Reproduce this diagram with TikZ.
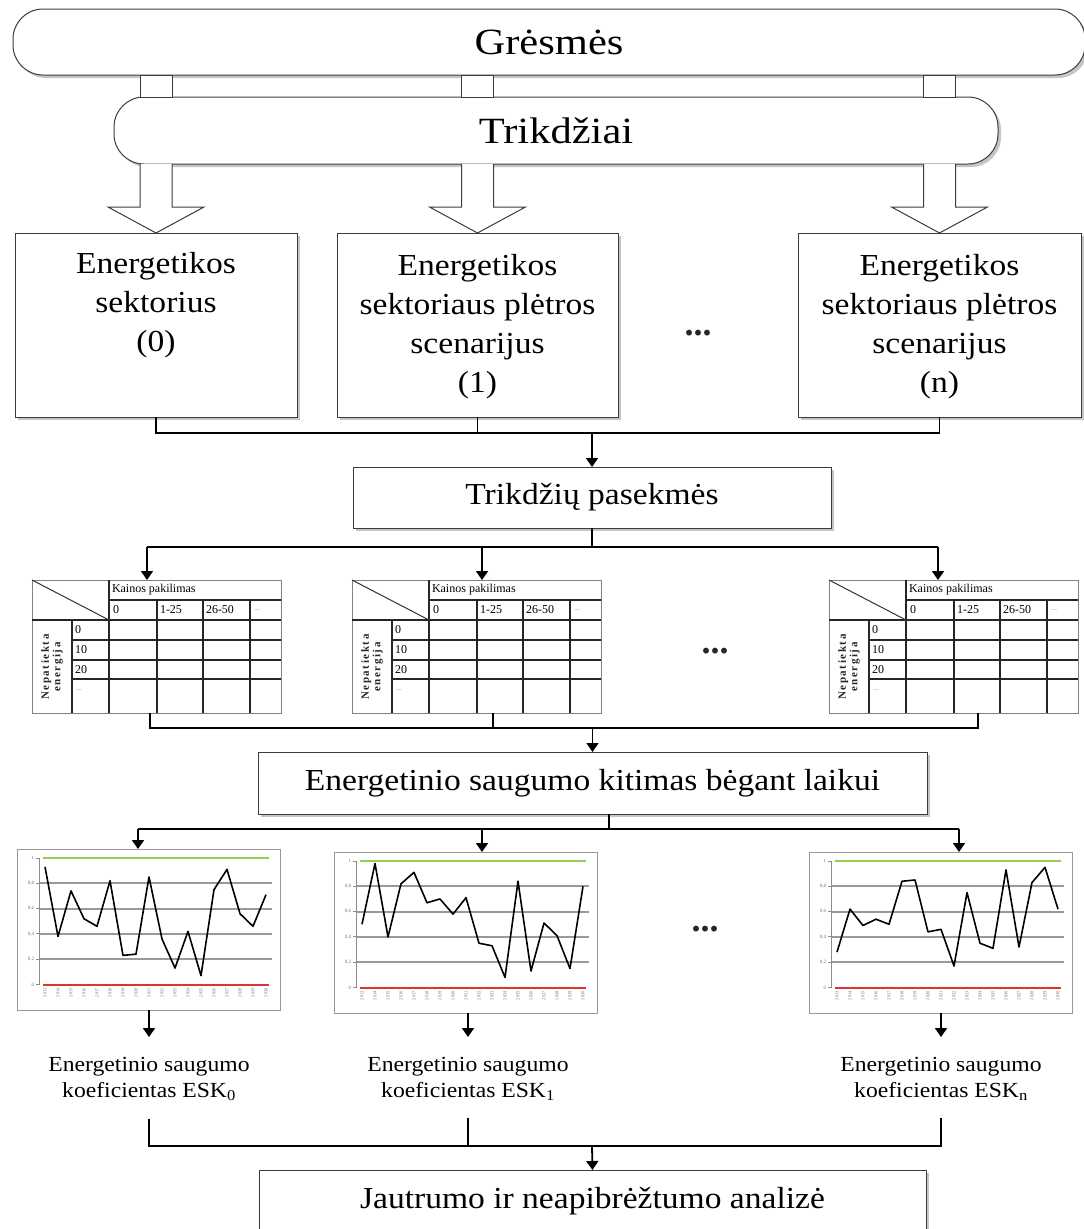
\documentclass[tikz,border=0pt]{standalone}
\usepackage{fontspec}
\setmainfont{Liberation Serif}
\newfontfamily\wideF{Liberation Serif}[FakeStretch=1.15]
\newfontfamily\midF{Liberation Serif}[FakeStretch=1.1]
\newfontfamily\spacedF{Liberation Serif}[LetterSpace=14]
\usetikzlibrary{arrows.meta,shadows,calc}
\definecolor{xlgreen}{RGB}{146,208,80}
\definecolor{xlred}{RGB}{225,50,50}
\definecolor{bordergray}{RGB}{60,60,60}
\newcommand{\bannerfont}{\wideF\fontsize{37}{42}\selectfont}
\newcommand{\boxfont}{\midF\fontsize{30.5}{39}\selectfont}
\newcommand{\labfont}{\midF\fontsize{21.5}{26}\selectfont}
\newcommand{\tblfont}{\fontsize{12}{12}\selectfont}
\tikzset{
  every node/.style={inner sep=0pt, outer sep=0pt},
  shbox/.style={draw=bordergray, line width=1pt, fill=white, drop shadow={shadow xshift=3pt, shadow yshift=-3pt, fill=black!45}},
  banner/.style={shbox, rounded corners=30pt, font=\bannerfont},
  mainbox/.style={shbox, font=\boxfont},
  boxtext/.style={font=\boxfont, align=center, anchor=north},
  lab/.style={font=\labfont, align=center, anchor=north},
  link/.style={draw=black, line width=1.8pt},
  arr/.style={link, -{Triangle[length=9pt,width=12pt]}},
  hollow/.style={draw=bordergray, line width=1pt, fill=white},
  dotsx/.style={font=\fontsize{36}{36}\selectfont\bfseries, text=black!85},
  tblframe/.style={draw=black!50, line width=1pt, minimum width=249pt, minimum height=133pt},
  tline/.style={draw=black!85, line width=1.8pt},
  ttext/.style={font=\tblfont},
  tgray/.style={font=\fontsize{8}{8}\selectfont, text=black!45},
  rottext/.style={font=\spacedF\bfseries\fontsize{11}{11.5}\selectfont, align=center, rotate=90, text=black!85},
  chartframe/.style={draw=black!40, line width=1pt, fill=white, minimum width=263pt, minimum height=161pt},
  gridl/.style={draw=black!40, line width=2.2pt},
  axisl/.style={draw=black!45, line width=1pt},
  greenl/.style={draw=xlgreen, line width=2pt},
  redl/.style={draw=xlred, line width=2pt},
  dataline/.style={draw=black, line width=1.6pt, line join=round},
  ylab/.style={font=\fontsize{5}{5}\selectfont, text=black!55},
  xlab/.style={font=\fontsize{4.5}{4.5}\selectfont, text=black!55},
}
\newcommand{\tbl}[2]{%
  \node[tblframe, anchor=north west] (#1) at (#2) {};
  \begin{scope}[shift={(#1.north west)}]
    \draw[tline] (77,20) -- (249,20);
    \draw[tline] (0,40) -- (249,40);
    \foreach \yy in {60,80,99}{\draw[tline] (40,\yy) -- (249,\yy);}
    \draw[tline] (40,40) -- (40,133);
    \draw[tline] (77,0) -- (77,133);
    \foreach \xx in {125,171,218}{\draw[tline] (\xx,20) -- (\xx,133);}
    \draw[draw=black!80, line width=1pt] (0,0) -- (77,40);
    \node[ttext, anchor=west] (#1-kp) at (80,10) {Kainos pakilimas};
    \node[ttext, anchor=west] (#1-c0) at (81,30) {0};
    \node[ttext, anchor=west] (#1-c1) at (128,30) {1-25};
    \node[ttext, anchor=west] (#1-c2) at (174,30) {26-50};
    \node[tgray, anchor=west] (#1-c3) at (222,30) {...};
    \node[ttext, anchor=west] (#1-r0) at (43,50) {0};
    \node[ttext, anchor=west] (#1-r1) at (43,70) {10};
    \node[ttext, anchor=west] (#1-r2) at (43,90) {20};
    \node[tgray, anchor=west] (#1-r3) at (44,110) {...};
    \node[rottext] (#1-ne) at (20,87) {Nepatiekta\\energija};
  \end{scope}
}
\newcommand{\xlchart}[3]{%
  \node[chartframe, anchor=north west] (#1) at (#2) {};
  \begin{scope}[shift={(#1.north west)}]
    \foreach \yy/\lab [count=\k] in {9/1, 34.3/{0,8}, 59.6/{0,6}, 84.9/{0,4}, 110.2/{0,2}, 135.5/0}{
      \node[ylab, anchor=east] (#1-y\k) at (17,\yy) {\lab};
      \draw[axisl] (19,\yy) -- (22,\yy);
    }
    \foreach \yy in {34.3,59.6,84.9,110.2}{\draw[gridl] (22,\yy) -- (255,\yy);}
    \draw[axisl] (22,9) -- (22,135.5);
    \draw[greenl] (26,9) -- (252,9);
    \draw[redl] (26,135.5) -- (252,135.5);
    \foreach \i in {0,...,17}{
      \pgfmathtruncatemacro\yr{2013+\i}
      \node[xlab, rotate=90, anchor=east] (#1-x\i) at (28+13*\i,139) {\yr};
    }
    \begin{scope}[shift={(28,135.5)}, xscale=13, yscale=-126.5]
      \draw[dataline] plot coordinates {#3};
    \end{scope}
  \end{scope}
}
\begin{document}
\begin{tikzpicture}[x=1pt,y=-1pt]
\useasboundingbox (0,0) rectangle (1084,1229);
\clip (0,0) rectangle (1084,1229);

% banners
\node[banner, anchor=north west, minimum width=1072pt, minimum height=66pt] (gres) at (13,9) {Grėsmės};
\node[banner, anchor=north west, minimum width=884pt, minimum height=67pt] (trik) at (114,97) {Trikdžiai};

% first row boxes
\node[mainbox, anchor=north west, minimum width=282pt, minimum height=184pt] (b0) at (15,233) {};
\node[mainbox, anchor=north west, minimum width=281pt, minimum height=184pt] (b1) at (337,233) {};
\node[mainbox, anchor=north west, minimum width=283pt, minimum height=184pt] (bn) at (798,233) {};
\node[boxtext] (b0t) at ($(b0.north)+(0,19)$) {Energetikos\\sektorius\\(0)};
\node[boxtext] (b1t) at ($(b1.north)+(0,21)$) {Energetikos\\sektoriaus plėtros\\scenarijus\\(1)};
\node[boxtext] (bnt) at ($(bn.north)+(0,21)$) {Energetikos\\sektoriaus plėtros\\scenarijus\\(n)};
\node[dotsx] (d1) at (698,333) {...};

% hollow connectors
\foreach \b in {b0,b1,bn}{
  \draw[hollow] ($(\b.north|-gres.south)+(-16,0)$) rectangle ($(\b.north|-trik.north)+(16,0)$);
  \draw[hollow] ($(\b.north|-trik.south)+(-16,0)$) -- ($(\b.north)+(-16,-26)$) -- ($(\b.north)+(-48,-26)$)
     -- (\b.north) -- ($(\b.north)+(48,-26)$) -- ($(\b.north)+(16,-26)$) -- ($(\b.north|-trik.south)+(16,0)$);
}

% consequences box
\node[mainbox, anchor=north west, minimum width=478pt, minimum height=61pt] (tp) at (353,467) {Trikdžių pasekmės};
\coordinate (j1) at ($(tp.north)+(0,-34)$);
\draw[link, line width=1.4pt] (b0.south) -- (b0.south |- j1) -- (bn.south |- j1) -- (bn.south);
\draw[link, line width=1.4pt] (b1.south) -- (b1.south |- j1);
\draw[arr, line width=1.4pt] (j1) -- (tp.north);

% tables
\tbl{t0}{32,580}
\tbl{t1}{352,580}
\tbl{t2}{829,580}
\node[dotsx] (d2) at (715,651) {...};

\coordinate (j2) at ($(tp.south)+(0,19)$);
\coordinate (a0) at (147,547);
\coordinate (a1) at (482,547);
\coordinate (a2) at (938,547);
\draw[link] (tp.south) -- (j2);
\draw[link] (a0) -- (a2);
\draw[arr] (a0) -- (a0 |- t0.north);
\draw[arr] (a1) -- (a1 |- t1.north);
\draw[arr] (a2) -- (a2 |- t2.north);

% security change box
\node[mainbox, anchor=north west, minimum width=669pt, minimum height=62pt] (es) at (258,752) {Energetinio saugumo kitimas bėgant laikui};
\coordinate (j3) at ($(es.north)+(0,-24)$);
\coordinate (o0) at (150,728);
\coordinate (o1) at (493,728);
\coordinate (o2) at (978,728);
\draw[link] (o0 |- t0.south) -- (o0) -- (o2) -- (o2 |- t2.south);
\draw[link] (o1 |- t1.south) -- (o1);
\draw[arr] (j3) -- (es.north);

% charts
\xlchart{c0}{17,849}{(0,0.93) (1,0.38) (2,0.74) (3,0.52) (4,0.46) (5,0.82) (6,0.23) (7,0.24) (8,0.85) (9,0.36) (10,0.13) (11,0.42) (12,0.07) (13,0.75) (14,0.91) (15,0.56) (16,0.46) (17,0.71)}
\xlchart{c1}{334,852}{(0,0.50) (1,0.98) (2,0.40) (3,0.82) (4,0.91) (5,0.67) (6,0.70) (7,0.58) (8,0.71) (9,0.35) (10,0.33) (11,0.08) (12,0.84) (13,0.13) (14,0.51) (15,0.41) (16,0.15) (17,0.80)}
\xlchart{c2}{809,852}{(0,0.28) (1,0.62) (2,0.49) (3,0.54) (4,0.50) (5,0.84) (6,0.85) (7,0.44) (8,0.46) (9,0.17) (10,0.75) (11,0.35) (12,0.31) (13,0.93) (14,0.32) (15,0.83) (16,0.95) (17,0.62)}
\node[dotsx] (d3) at (705,929) {...};

\coordinate (j4) at (609,829);
\coordinate (p0) at (138,829);
\coordinate (p1) at (482,829);
\coordinate (p2) at (959,829);
\draw[link] (j4 |- es.south) -- (j4);
\draw[link] (p0) -- (p2);
\draw[arr] (p0) -- (p0 |- c0.north);
\draw[arr] (p1) -- (p1 |- c1.north);
\draw[arr] (p2) -- (p2 |- c2.north);

% labels
\node[lab] (l0) at (149,1057) {Energetinio saugumo\\koeficientas ESK\textsubscript{0}};
\node[lab] (l1) at (468,1057) {Energetinio saugumo\\koeficientas ESK\textsubscript{1}};
\node[lab] (l2) at (941,1057) {Energetinio saugumo\\koeficientas ESK\textsubscript{n}};
\draw[arr] (l0.north |- c0.south) -- ($(l0.north)+(0,-20)$);
\draw[arr] (l1.north |- c1.south) -- ($(l1.north)+(0,-20)$);
\draw[arr] (l2.north |- c2.south) -- ($(l2.north)+(0,-20)$);

% final box
\node[mainbox, anchor=north west, minimum width=667pt, minimum height=62pt] (ja) at (259,1170) {Jautrumo ir neapibrėžtumo analizė};
\coordinate (j5) at (592,1146);
\draw[link] ($(l0.south)+(0,18)$) -- (l0.south |- j5) -- (l2.south |- j5) -- ($(l2.south)+(0,18)$);
\draw[link] ($(l1.south)+(0,18)$) -- (l1.south |- j5);
\draw[arr] (j5) -- (ja.north);
\end{tikzpicture}
\end{document}
